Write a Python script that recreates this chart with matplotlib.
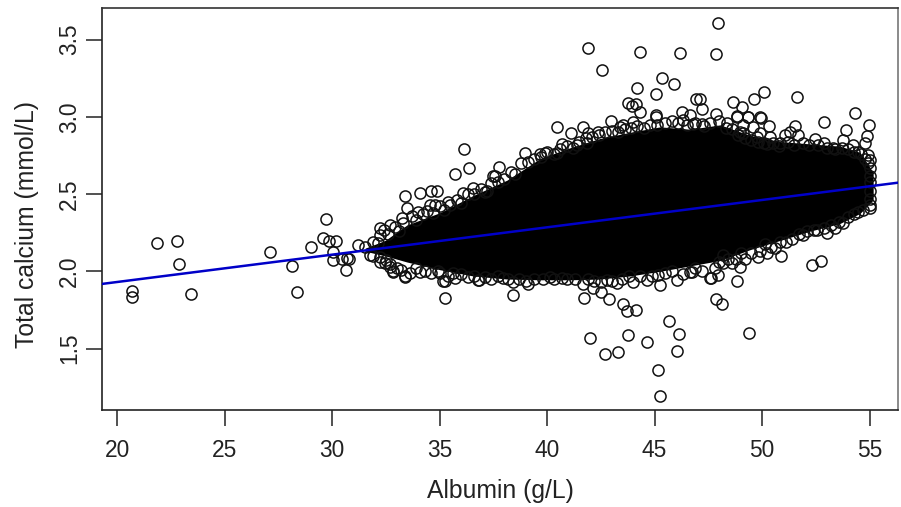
import matplotlib
matplotlib.use("Agg")
import matplotlib.pyplot as plt

plt.rcParams['font.family'] = ['Liberation Sans', 'DejaVu Sans']

# Dense core of the cloud: albumin position, lowest and highest calcium of the solid mass
core_albumin = [31.53, 32.46, 33.48, 35.02, 36.55, 38.13, 39.67, 41.07, 42.46, 43.86,
                45.25, 46.65, 48.05, 49.44, 50.84, 52.23, 53.63, 54.56, 55.17]
core_low = [2.13, 2.10, 2.06, 2.01, 1.97, 1.95, 1.945, 1.945, 1.95, 1.97,
            2.00, 2.035, 2.07, 2.14, 2.20, 2.26, 2.31, 2.375, 2.462]
core_high = [2.15, 2.20, 2.30, 2.38, 2.49, 2.59, 2.73, 2.80, 2.86, 2.90,
             2.935, 2.92, 2.948, 2.88, 2.84, 2.825, 2.81, 2.77, 2.64]

# Individually readable points
albumin = [47.97, 41.92, 44.34, 46.18, 47.86, 42.55, 45.35, 45.90, 44.18, 45.08, 50.11, 51.64,
           49.61, 48.64, 46.93, 47.12, 49.08, 47.21, 43.75, 43.94, 44.14, 44.30, 54.33, 45.05,
           45.05, 46.27, 46.65, 47.86, 48.85, 49.36, 49.94, 52.88, 54.98, 53.90, 54.90, 51.54,
           42.96, 40.45, 41.10, 41.68, 40.69, 38.96, 39.67, 40.45, 37.78, 36.13, 36.37, 35.71,
           37.50,
           21.85, 22.78, 27.10, 29.00, 29.71, 29.56, 29.87, 30.16, 30.05, 33.39, 34.08, 34.58,
           34.86, 33.50, 31.19, 31.53,
           20.67, 20.67, 22.86, 23.41, 28.11, 28.35, 30.05, 30.63, 30.78, 30.44, 35.25, 33.39,
           32.84, 35.17,
           45.27, 45.16, 46.03, 42.69, 43.28, 44.66, 42.00, 43.76, 46.15, 49.41, 45.69, 44.14,
           43.73, 43.55, 48.12, 47.86, 42.90, 41.72, 42.50, 38.43, 48.82, 45.27, 36.82, 52.34,
           52.76, 50.87, 53.04, 55.03, 51.92,
           41.92, 41.38, 42.37, 43.55, 44.01, 46.80, 47.19, 48.36, 48.82, 49.36, 49.90, 49.13,
           49.59, 49.75, 48.98, 46.34, 45.10, 43.39, 41.84, 39.90,
           51.30, 51.69, 51.07, 52.46, 52.88, 53.32, 53.78, 54.25, 54.80, 54.94, 54.94, 54.48,
           50.30, 50.37, 50.84, 49.13, 49.90, 50.22,
           34.00, 32.22, 32.69, 32.22, 34.78, 34.55, 35.40, 36.10, 36.57, 37.11, 37.57, 32.15,
           33.23, 31.76, 32.22, 32.69, 32.84, 33.39, 34.08, 35.02, 35.25, 35.71, 36.80, 37.96,
           38.43, 39.13, 40.13, 40.68, 30.67, 32.46,
           41.68, 43.27, 42.15, 44.01, 44.64, 45.17, 46.03, 46.65, 47.58, 48.20, 42.77,
           46.73, 47.61, 48.20, 47.97, 48.98, 49.21, 48.59, 49.83, 50.22, 52.57, 53.39, 53.78,
           54.48, 50.84, 50.13]
calcium = [3.606, 3.448, 3.420, 3.414, 3.405, 3.304, 3.250, 3.215, 3.190, 3.150, 3.160, 3.130,
           3.114, 3.098, 3.114, 3.116, 3.062, 3.050, 3.090, 3.070, 3.083, 3.034, 3.027, 3.010,
           3.000, 3.034, 3.012, 3.017, 3.004, 2.997, 2.993, 2.969, 2.950, 2.915, 2.878, 2.940,
           2.975, 2.934, 2.898, 2.933, 2.823, 2.764, 2.758, 2.764, 2.673, 2.794, 2.671, 2.632,
           2.619,
           2.181, 2.194, 2.127, 2.157, 2.337, 2.218, 2.194, 2.198, 2.127, 2.490, 2.510, 2.518,
           2.518, 2.408, 2.170, 2.160,
           1.874, 1.835, 2.047, 1.855, 2.032, 1.866, 2.073, 2.010, 2.080, 2.080, 1.827, 1.968,
           2.000, 1.940,
           1.190, 1.363, 1.484, 1.466, 1.477, 1.542, 1.568, 1.589, 1.594, 1.598, 1.678, 1.751,
           1.741, 1.788, 1.788, 1.819, 1.823, 1.827, 1.864, 1.848, 1.935, 1.913, 1.946, 2.041,
           2.067, 2.097, 2.246, 2.408, 2.235,
           2.894, 2.818, 2.904, 2.948, 2.969, 2.954, 2.954, 2.962, 3.001, 3.001, 2.997, 2.948,
           2.936, 2.872, 2.904, 2.980, 2.948, 2.936, 2.829, 2.764,
           2.904, 2.883, 2.883, 2.857, 2.829, 2.797, 2.850, 2.818, 2.829, 2.753, 2.700, 2.775,
           2.941, 2.872, 2.829, 2.894, 2.894, 2.824,
           2.386, 2.279, 2.300, 2.235, 2.430, 2.430, 2.451, 2.509, 2.537, 2.515, 2.617, 2.181,
           2.343, 2.106, 2.095, 2.030, 1.998, 1.965, 1.998, 1.987, 1.939, 1.955, 1.944, 1.955,
           1.933, 1.918, 1.961, 1.955, 2.086, 2.052,
           1.916, 1.922, 1.890, 1.933, 1.944, 1.976, 1.944, 1.997, 1.955, 2.052, 1.944,
           1.997, 1.955, 2.106, 1.976, 2.030, 2.078, 2.052, 2.095, 2.117, 2.267, 2.278, 2.315,
           2.386, 2.192, 2.177]

# Rings crowding the upper and lower rim of the cloud, estimated by eye
rim_albumin = [31.9, 32.4, 32.6, 32.9, 33.1, 33.3, 33.7, 33.9, 34.2, 34.4, 34.7, 35.0, 35.2, 35.5,
               35.8, 36.0, 36.3, 36.6, 36.9, 37.2, 37.4, 37.7, 38.0, 38.3, 38.5, 38.8, 39.1, 39.4,
               39.7, 40.0, 40.3, 40.6, 40.9, 41.2, 41.5, 41.8, 42.1, 42.4, 42.7, 43.0, 43.3, 43.6,
               43.9, 44.2, 44.5, 44.8, 45.5, 45.8, 46.1, 46.5, 46.9, 47.3, 47.6, 48.0, 48.3, 48.6,
               48.9, 49.2, 49.5, 49.8, 50.1, 50.5, 50.8, 51.2, 51.5, 51.9, 52.2, 52.6, 53.0, 53.4,
               53.7, 54.0, 54.3, 54.6, 54.8, 55.0, 55.0, 55.0, 55.0, 55.0, 55.0,
               31.9, 32.2, 32.5, 32.7, 33.0, 33.2, 33.6, 33.9, 34.3, 34.6, 34.9, 35.4, 35.6, 36.0,
               36.3, 36.6, 37.1, 37.4, 37.7, 38.2, 38.7, 39.0, 39.4, 39.8, 40.3, 40.9, 41.3, 41.9,
               42.2, 42.5, 43.0, 43.5, 43.8, 44.3, 44.9, 45.5, 45.8, 46.3, 46.9, 47.2, 47.8, 48.0,
               48.4, 48.8, 49.0, 49.5, 49.9, 50.4, 50.6, 51.1, 51.4, 51.7, 52.1, 52.4, 52.9, 53.2,
               53.6, 54.0, 54.3, 54.7, 55.0]
rim_calcium = [2.19, 2.27, 2.24, 2.29, 2.26, 2.31, 2.36, 2.33, 2.37, 2.39, 2.38, 2.42, 2.40, 2.43,
               2.46, 2.44, 2.50, 2.50, 2.53, 2.52, 2.57, 2.58, 2.60, 2.64, 2.63, 2.70, 2.71, 2.73,
               2.74, 2.77, 2.76, 2.79, 2.81, 2.80, 2.84, 2.86, 2.87, 2.88, 2.90, 2.91, 2.90, 2.92,
               2.93, 2.94, 2.93, 2.95, 2.96, 2.97, 2.96, 2.95, 2.96, 2.94, 2.96, 2.97, 2.93, 2.92,
               2.88, 2.86, 2.85, 2.84, 2.83, 2.83, 2.81, 2.84, 2.82, 2.83, 2.82, 2.82, 2.80, 2.79,
               2.80, 2.79, 2.77, 2.76, 2.73, 2.72, 2.67, 2.62, 2.58, 2.52, 2.47,
               2.10, 2.06, 2.07, 2.05, 2.02, 2.01, 1.99, 2.02, 2.00, 1.99, 2.00, 1.97, 1.99, 1.98,
               1.96, 1.97, 1.96, 1.95, 1.97, 1.95, 1.95, 1.94, 1.95, 1.95, 1.95, 1.95, 1.95, 1.95,
               1.94, 1.93, 1.94, 1.95, 1.97, 1.97, 1.97, 1.99, 2.00, 1.98, 2.02, 2.00, 2.02, 2.06,
               2.08, 2.08, 2.12, 2.12, 2.13, 2.16, 2.15, 2.19, 2.21, 2.24, 2.26, 2.27, 2.28, 2.30,
               2.32, 2.35, 2.37, 2.40, 2.43]

# Fitted line, read at the two frame edges
fit_albumin = [19.27, 56.34]
fit_calcium = [1.918, 2.574]

x_ticks = [20, 25, 30, 35, 40, 45, 50, 55]
y_ticks = [1.5, 2.0, 2.5, 3.0, 3.5]
y_tick_labels = ['1.5', '2.0', '2.5', '3.0', '3.5']

W, H = 901, 507
fig = plt.figure(figsize=(W / 100, H / 100), dpi=100)
ax = fig.add_axes([101.7 / W, 1 - 410.3 / H, (898.3 - 101.7) / W, (410.3 - 7.5) / H])
ax.set_xlim(19.27, 56.34)
ax.set_ylim(1.10, 3.708)

ax.fill_between(core_albumin, core_low, core_high, color='black', lw=0, zorder=2)
ring = dict(ls='none', marker='o', ms=8.0, mfc='none', mec='#111111', mew=1.1, zorder=3)
ax.plot(rim_albumin, rim_calcium, **ring)
ax.plot(albumin, calcium, **ring)
ax.plot(fit_albumin, fit_calcium, color='#0000c8', lw=1.8, zorder=4)

ax.set_xticks(x_ticks)
ax.set_yticks(y_ticks)
ax.set_yticklabels(y_tick_labels, rotation=90, va='center')
ax.tick_params(axis='both', length=11.5, width=1.1, color='#222222', labelsize=16.4,
               labelcolor='#222222')
ax.tick_params(axis='x', pad=9.5)
ax.tick_params(axis='y', pad=3.5)

ax.set_xlabel('Albumin (g/L)', fontsize=17.8, color='#222222', va='center')
ax.set_ylabel('Total calcium (mmol/L)', fontsize=17.8, color='#222222', va='center')
ax.xaxis.set_label_coords((500.5 - 101.7) / (898.3 - 101.7), (410.3 - 491) / (410.3 - 7.5))
ax.yaxis.set_label_coords((27 - 101.7) / (898.3 - 101.7), (410.3 - 224) / (410.3 - 7.5))

for name, color, lw in [('left', '#222222', 1.2), ('bottom', '#222222', 1.2),
                        ('top', '#333333', 1.2), ('right', '#777777', 1.2)]:
    ax.spines[name].set_color(color)
    ax.spines[name].set_linewidth(lw)

fig.savefig('out.png', dpi=100)
